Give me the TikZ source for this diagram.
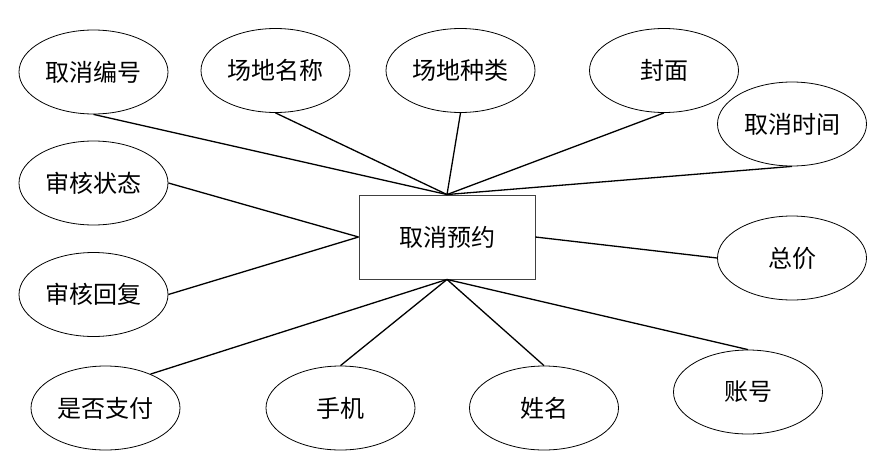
\documentclass[tikz,border=0pt]{standalone}
\usepackage{fontspec}
\newfontfamily\cjk{Noto Sans CJK SC}
\usetikzlibrary{shapes.geometric}
\begin{document}
\begin{tikzpicture}[x=1pt,y=-1pt,
  attr/.style={ellipse,draw,line width=0.8pt,minimum width=149pt,minimum height=84pt,inner sep=0pt,font=\cjk\fontsize{24}{28}\selectfont},
  ent/.style={rectangle,draw=black!75,line width=0.9pt,minimum width=176pt,minimum height=84pt,inner sep=0pt,font=\cjk\fontsize{24}{28}\selectfont},
  link/.style={line width=1.3pt}]
\useasboundingbox[fill=white] (0,0) rectangle (870,466);
\node[ent] (r) at (447,237) {取消预约};
\node[attr] (a1) at (93.5,72) {取消编号};
\node[attr] (a2) at (275.5,70.5) {场地名称};
\node[attr] (a3) at (460.5,70.5) {场地种类};
\node[attr] (a4) at (664,70.5) {封面};
\node[attr] (a5) at (792,124) {取消时间};
\node[attr] (a6) at (93.5,183) {审核状态};
\node[attr] (a7) at (93.5,294.5) {审核回复};
\node[attr] (a8) at (792,258) {总价};
\node[attr] (a9) at (105.5,408) {是否支付};
\node[attr] (a10) at (340.5,408) {手机};
\node[attr] (a11) at (544,408) {姓名};
\node[attr] (a12) at (748,392) {账号};
\draw[link] (a1.south) -- (r.north);
\draw[link] (a2.south) -- (r.north);
\draw[link] (a3.south) -- (r.north);
\draw[link] (a4.south) -- (r.north);
\draw[link] (a5.south) -- (r.north);
\draw[link] (a6.east) -- (r.west);
\draw[link] (a7.east) -- (r.west);
\draw[link] (a8.west) -- (r.east);
\draw[link] (a9.37) -- (r.south);
\draw[link] (a10.north) -- (r.south);
\draw[link] (a11.north) -- (r.south);
\draw[link] (a12.north) -- (r.south);
\end{tikzpicture}
\end{document}
